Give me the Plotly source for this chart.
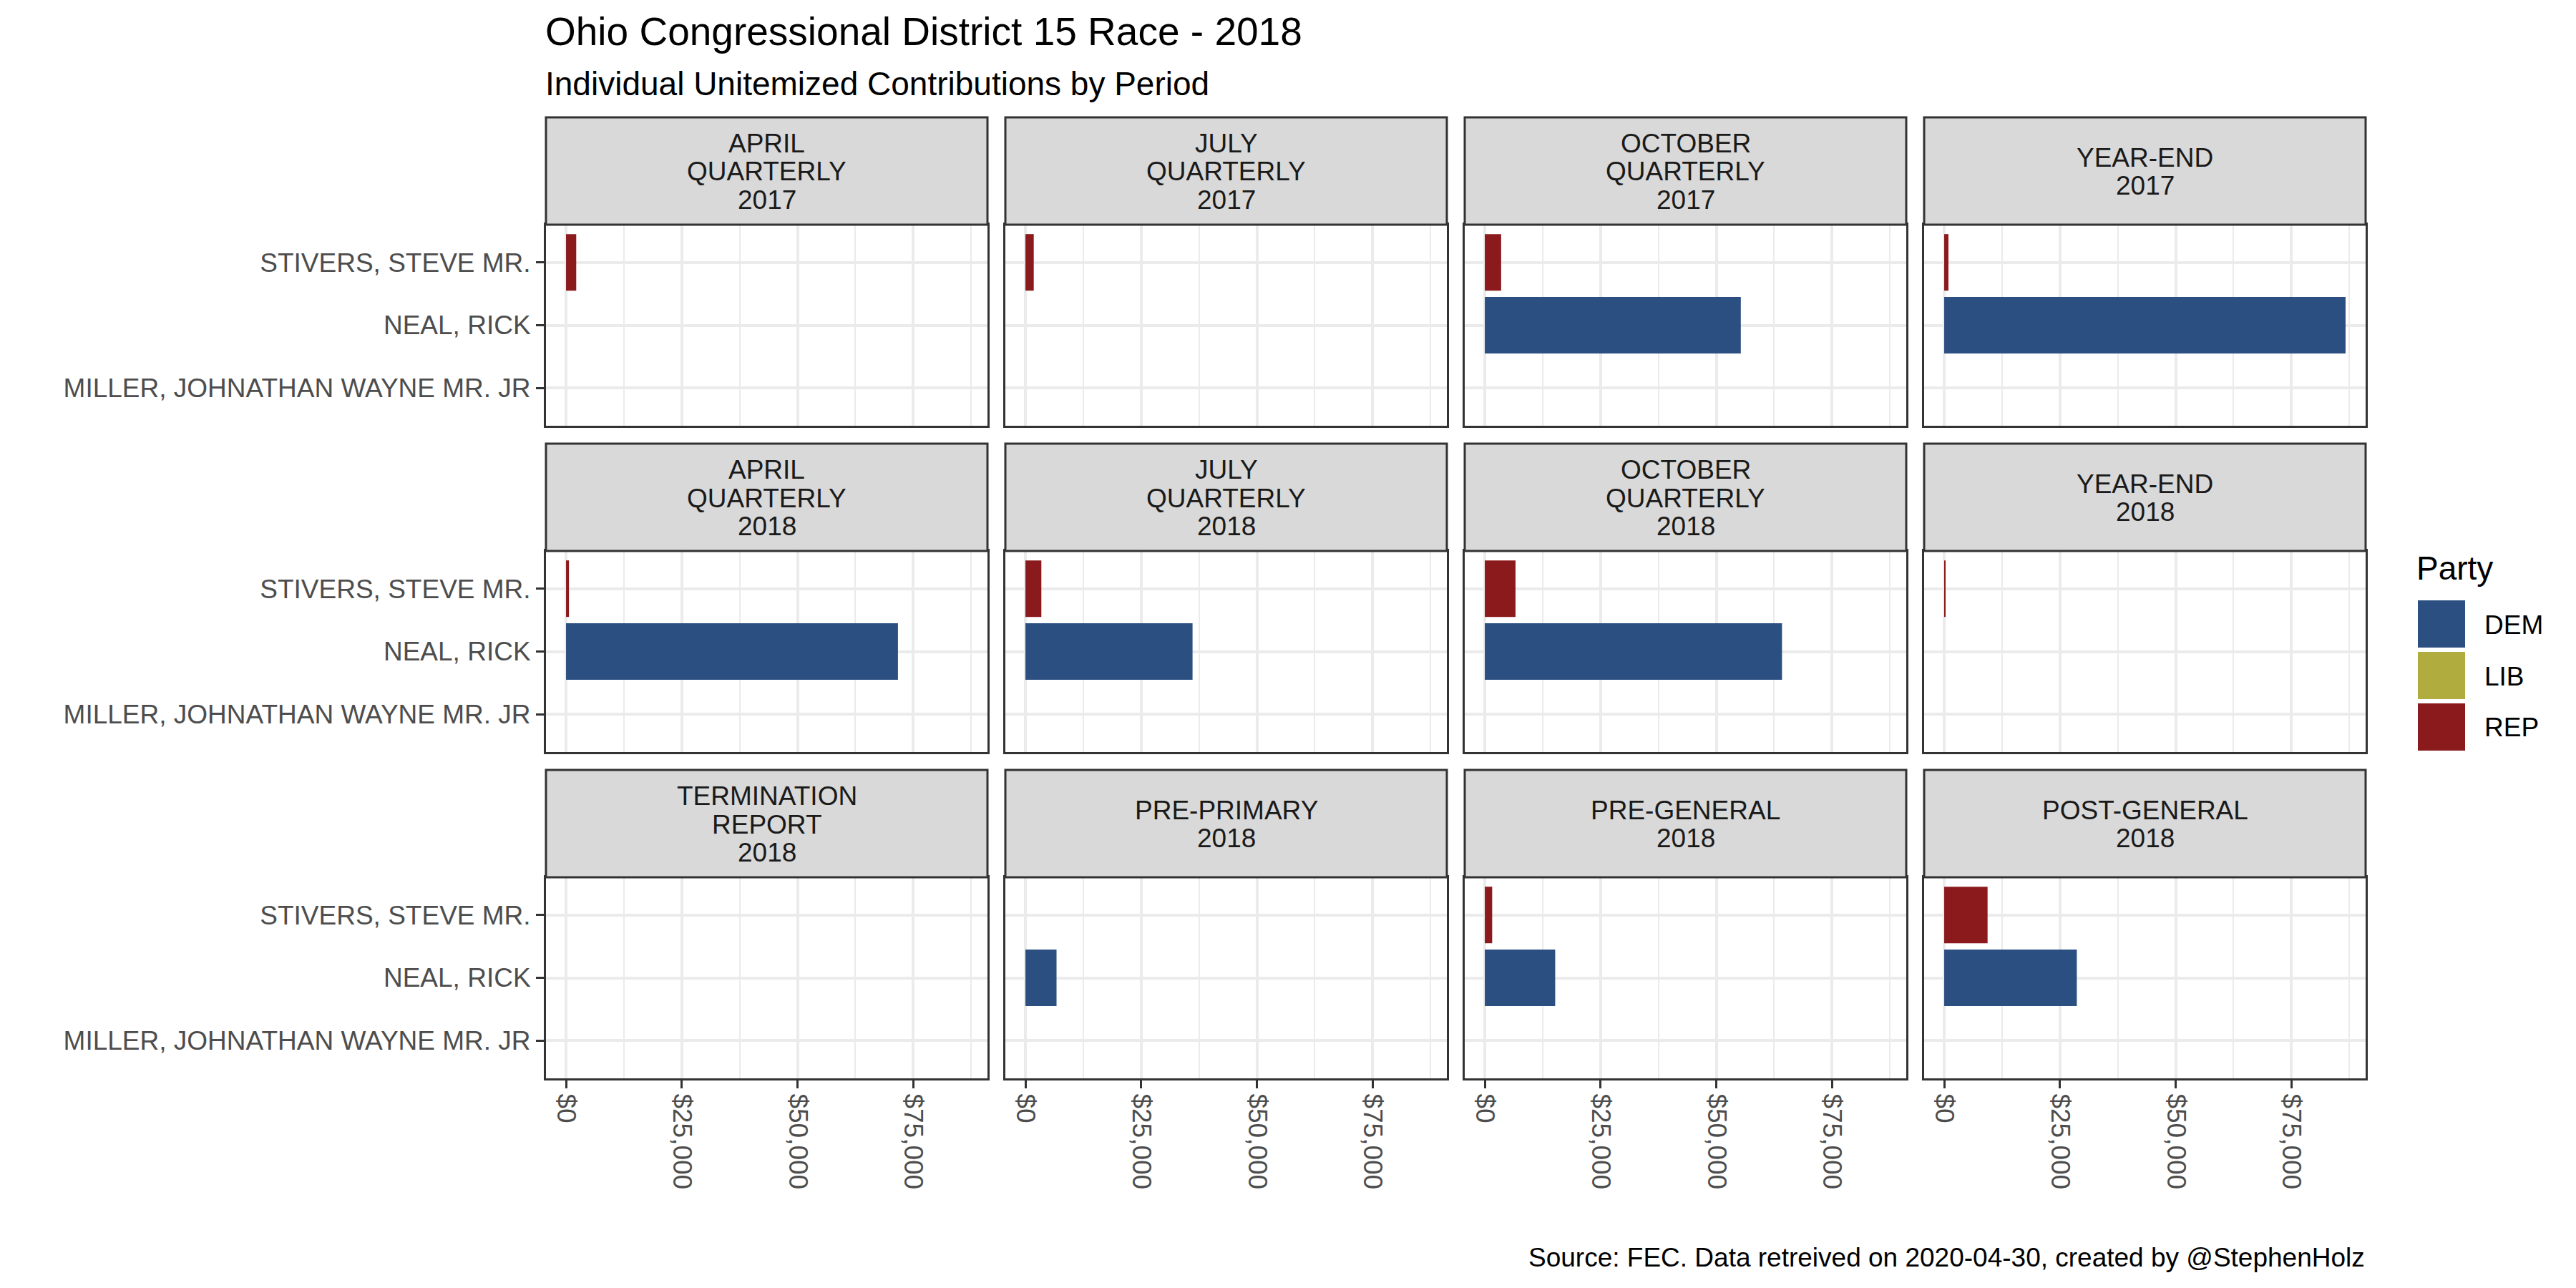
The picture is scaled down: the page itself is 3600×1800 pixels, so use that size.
import plotly.graph_objects as go

# ---------------- data ----------------
periods = [
    "APRIL\nQUARTERLY\n2017", "JULY\nQUARTERLY\n2017", "OCTOBER\nQUARTERLY\n2017", "YEAR-END\n2017",
    "APRIL\nQUARTERLY\n2018", "JULY\nQUARTERLY\n2018", "OCTOBER\nQUARTERLY\n2018", "YEAR-END\n2018",
    "TERMINATION\nREPORT\n2018", "PRE-PRIMARY\n2018", "PRE-GENERAL\n2018", "POST-GENERAL\n2018",
]
candidates = ["MILLER, JOHNATHAN WAYNE MR. JR", "NEAL, RICK", "STIVERS, STEVE MR."]
candidate_party = ["LIB", "DEM", "REP"]

miller_values = [None, None, None, None, None, None, None, None, None, None, None, None]
neal_values = [None, None, 55300, 86700, 71700, 36100, 64200, None, None, 6720, 15200, 28650]
stivers_values = [2200, 1800, 3530, 920, 630, 3440, 6630, 260, None, None, 1590, 9370]
candidate_values = [miller_values, neal_values, stivers_values]

party_names = ["DEM", "LIB", "REP"]
party_colors = ["#2c4f82", "#b0ac3e", "#8b1a1c"]

x_ticks = [0, 25000, 50000, 75000]
x_tick_labels = ["$0", "$25,000", "$50,000", "$75,000"]

title_text = "Ohio Congressional District 15 Race - 2018"
subtitle_text = "Individual Unitemized Contributions by Period"
caption_text = "Source: FEC. Data retreived on 2020-04-30, created by @StephenHolz"
legend_title = "Party"

# ---------------- layout constants ----------------
W, H = 3600, 1800
FONT = "Liberation Sans, Arial, sans-serif"
PANEL_L0, PANEL_W, COL_STEP = 763, 617, 642
STRIP_T0, STRIP_H, PANEL_H, ROW_STEP = 164, 150, 281, 456
GRID = "#EBEBEB"
DARK = "#333333"

def px_x(v):
    return v / W

def px_y(v):
    return 1 - v / H

all_vals = [v for vals in candidate_values for v in vals if v is not None]
xmax = max(all_vals)
x_range = [-0.05 * xmax, 1.05 * xmax]
minor_ticks = [t + (x_ticks[1] - x_ticks[0]) / 2 for t in x_ticks]

fig = go.Figure()
color_of = dict(zip(party_names, party_colors))

layout_axes = {}
shapes = []
annotations = []

for i, label in enumerate(periods):
    row, col = divmod(i, 4)
    ax = "" if i == 0 else str(i + 1)
    left = PANEL_L0 + col * COL_STEP
    right = left + PANEL_W
    strip_top = STRIP_T0 + row * ROW_STEP
    ptop = strip_top + STRIP_H
    pbot = ptop + PANEL_H

    for k, cand in enumerate(candidates):
        val = candidate_values[k][i]
        party = candidate_party[k]
        fig.add_trace(go.Bar(
            x=[val], y=[cand], orientation="h", width=0.9,
            marker=dict(color=color_of[party], line=dict(width=0)),
            xaxis="x" + ax, yaxis="y" + ax, showlegend=False, name=party,
        ))

    bottom_row = row == 2
    first_col = col == 0
    layout_axes["xaxis" + ax] = dict(
        domain=[px_x(left), px_x(right)], anchor="y" + ax, range=x_range,
        tickmode="array", tickvals=x_ticks, ticktext=x_tick_labels,
        showticklabels=bottom_row, ticks="outside" if bottom_row else "",
        ticklen=11, tickwidth=3, tickcolor=DARK, tickangle=90,
        tickfont=dict(family=FONT, size=37, color="#4D4D4D"),
        showgrid=True, gridcolor=GRID, gridwidth=4,
        minor=dict(tickmode="array", tickvals=minor_ticks, showgrid=True,
                   gridcolor=GRID, gridwidth=2, ticks=""),
        showline=True, mirror=True, linecolor=DARK, linewidth=3,
        zeroline=False, fixedrange=True,
    )
    layout_axes["yaxis" + ax] = dict(
        domain=[px_y(pbot), px_y(ptop)], anchor="x" + ax,
        type="category", categoryorder="array", categoryarray=candidates,
        range=[-0.6, len(candidates) - 0.4],
        showticklabels=first_col, ticks="outside" if first_col else "",
        ticklen=11, tickwidth=3, tickcolor=DARK,
        tickfont=dict(family=FONT, size=37, color="#4D4D4D"),
        showgrid=True, gridcolor=GRID, gridwidth=4,
        showline=True, mirror=True, linecolor=DARK, linewidth=3,
        zeroline=False, fixedrange=True,
    )

    # strip
    shapes.append(dict(type="rect", xref="paper", yref="paper",
                       x0=px_x(left), x1=px_x(right), y0=px_y(ptop), y1=px_y(strip_top),
                       fillcolor="#D9D9D9", line=dict(color=DARK, width=3), layer="above"))
    lines = label.split("\n")
    n = len(lines)
    cy = strip_top + STRIP_H / 2
    for j, ln in enumerate(lines):
        yc = cy + (j - (n - 1) / 2) * 39.5
        annotations.append(dict(text=ln, xref="paper", yref="paper",
                                x=px_x((left + right) / 2), y=px_y(yc + 1),
                                xanchor="center", yanchor="middle", showarrow=False,
                                font=dict(family=FONT, size=37, color="#1A1A1A")))

# titles
annotations.append(dict(text=title_text, xref="paper", yref="paper", x=px_x(760), y=px_y(44),
                        xanchor="left", yanchor="middle", showarrow=False,
                        font=dict(family=FONT, size=55, color="#000000")))
annotations.append(dict(text=subtitle_text, xref="paper", yref="paper", x=px_x(760), y=px_y(117),
                        xanchor="left", yanchor="middle", showarrow=False,
                        font=dict(family=FONT, size=46, color="#000000")))
annotations.append(dict(text=caption_text, xref="paper", yref="paper", x=px_x(3307), y=px_y(1757),
                        xanchor="right", yanchor="middle", showarrow=False,
                        font=dict(family=FONT, size=37, color="#000000")))

# legend (drawn manually)
annotations.append(dict(text=legend_title, xref="paper", yref="paper", x=px_x(3375), y=px_y(794),
                        xanchor="left", yanchor="middle", showarrow=False,
                        font=dict(family=FONT, size=46, color="#000000")))
for j, (pn, pc) in enumerate(zip(party_names, party_colors)):
    top = 839 + j * 72
    shapes.append(dict(type="rect", xref="paper", yref="paper",
                       x0=px_x(3379), x1=px_x(3445), y0=px_y(top + 66), y1=px_y(top),
                       fillcolor=pc, line=dict(width=0), layer="above"))
    annotations.append(dict(text=pn, xref="paper", yref="paper", x=px_x(3470), y=px_y(top + 34),
                            xanchor="left", yanchor="middle", showarrow=False,
                            font=dict(family=FONT, size=37, color="#000000")))

fig.update_layout(
    width=W, height=H, margin=dict(l=0, r=0, t=0, b=0),
    paper_bgcolor="white", plot_bgcolor="white",
    barmode="overlay", showlegend=False,
    shapes=shapes, annotations=annotations,
    font=dict(family=FONT),
    **layout_axes,
)

fig.write_html("out.html", config={"displayModeBar": False},
               post_script="document.body.style.margin='0px';")
